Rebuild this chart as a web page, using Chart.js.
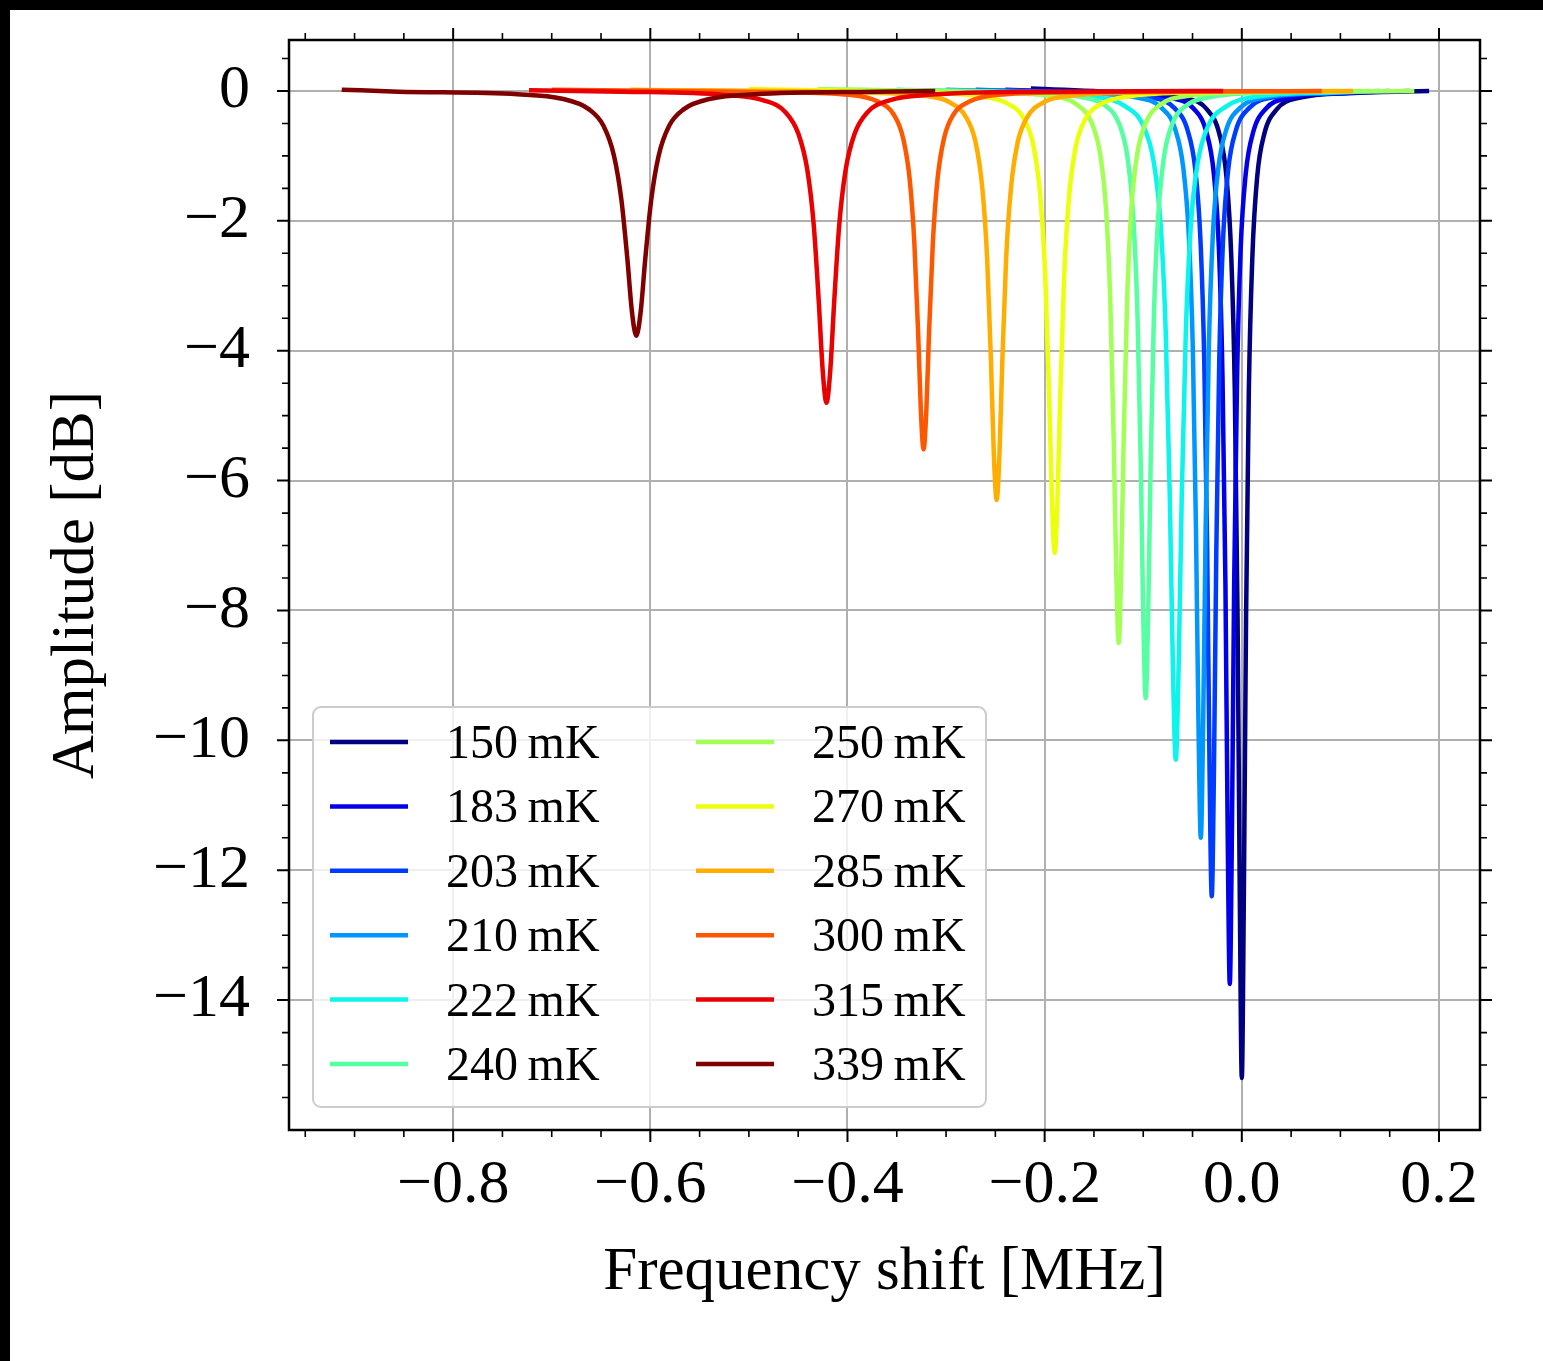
<!DOCTYPE html>
<html>
<head>
<meta charset="utf-8">
<title>Resonance dips vs temperature</title>
<script src="https://cdn.jsdelivr.net/npm/chart.js@4.4.1/dist/chart.umd.min.js"></script>
<style>
  html, body { margin: 0; padding: 0; background: #fff; }
  canvas { display: block; }
</style>
</head>
<body>
<canvas id="dips" width="1543" height="1361"></canvas>
<script>
// Temperatures (legend order) and jet colours
const temps = [150, 183, 203, 210, 222, 240, 250, 270, 285, 300, 315, 339];
const colors = ['#000080', '#0000e9', '#003cff', '#0096ff', '#0cf4eb', '#56ffa1',
                '#a1ff56', '#ecff0b', '#ffad00', '#ff5700', '#e90000', '#800000'];

// Frequency shift [MHz] and amplitude [dB] for each sweep
const f150 = [-0.214, -0.114, -0.0569, -0.0356, -0.0228, -0.0156, -0.0107, -0.0071, -0.0043, -0.0021, 0.0, 0.0021, 0.0043, 0.0071, 0.0107, 0.0156, 0.0228, 0.0356, 0.0569, 0.114, 0.190];
const a150 = [0.04, -0.03, -0.11, -0.28, -0.66, -1.32, -2.55, -4.63, -8.12, -12.32, -15.2, -12.32, -8.12, -4.63, -2.55, -1.32, -0.66, -0.28, -0.11, -0.03, 0.0];

const f183 = [-0.24, -0.130, -0.0711, -0.0490, -0.0358, -0.0284, -0.0232, -0.0196, -0.0166, -0.0144, -0.0122, -0.0100, -0.0078, -0.0048, -0.0012, 0.0040, 0.0114, 0.0246, 0.0467, 0.1056, 0.17];
const a183 = [0.02, -0.03, -0.11, -0.27, -0.64, -1.27, -2.44, -4.40, -7.62, -11.34, -13.75, -11.34, -7.62, -4.40, -2.44, -1.27, -0.64, -0.27, -0.11, -0.03, 0.0];

const f203 = [-0.27, -0.1523, -0.0914, -0.0686, -0.0549, -0.0472, -0.0419, -0.0381, -0.0351, -0.0328, -0.0305, -0.0282, -0.0259, -0.0229, -0.0191, -0.0138, -0.0061, 0.0076, 0.0304, 0.0913, 0.15];
const a203 = [0.02, -0.03, -0.10, -0.26, -0.61, -1.21, -2.31, -4.15, -7.11, -10.38, -12.4, -10.38, -7.11, -4.15, -2.31, -1.21, -0.61, -0.26, -0.10, -0.03, 0.0];

const f210 = [-0.30, -0.1715, -0.1066, -0.0822, -0.0676, -0.0595, -0.0538, -0.0497, -0.0465, -0.0440, -0.0416, -0.0392, -0.0367, -0.0335, -0.0294, -0.0237, -0.0156, -0.0010, 0.0234, 0.0883, 0.14];
const a210 = [0.02, -0.03, -0.10, -0.25, -0.59, -1.17, -2.22, -3.97, -6.74, -9.72, -11.5, -9.72, -6.74, -3.97, -2.22, -1.17, -0.59, -0.25, -0.10, -0.03, 0.0];

const f222 = [-0.35, -0.2294, -0.1482, -0.1178, -0.0995, -0.0893, -0.0822, -0.0772, -0.0731, -0.0700, -0.0670, -0.0640, -0.0609, -0.0568, -0.0518, -0.0447, -0.0345, -0.0162, 0.0142, 0.0954, 0.13];
const a222 = [0.02, -0.02, -0.09, -0.24, -0.55, -1.10, -2.09, -3.71, -6.21, -8.80, -10.3, -8.80, -6.21, -3.71, -2.09, -1.10, -0.55, -0.24, -0.09, -0.02, 0.0];

const f240 = [-0.40, -0.2306, -0.1641, -0.1391, -0.1241, -0.1158, -0.1100, -0.1058, -0.1025, -0.1000, -0.0975, -0.0950, -0.0925, -0.0892, -0.0850, -0.0792, -0.0709, -0.0559, -0.0309, 0.0356, 0.12];
const a240 = [0.02, -0.02, -0.09, -0.22, -0.52, -1.04, -1.97, -3.47, -5.76, -8.06, -9.35, -8.06, -5.76, -3.47, -1.97, -1.04, -0.52, -0.22, -0.09, -0.02, 0.0];

const f250 = [-0.43, -0.2606, -0.1927, -0.1673, -0.1520, -0.1436, -0.1376, -0.1334, -0.1300, -0.1274, -0.1249, -0.1224, -0.1198, -0.1164, -0.1122, -0.1062, -0.0978, -0.0825, -0.0571, 0.0108, 0.175];
const a250 = [0.03, -0.02, -0.08, -0.21, -0.50, -0.98, -1.85, -3.25, -5.34, -7.38, -8.5, -7.38, -5.34, -3.25, -1.85, -0.98, -0.50, -0.21, -0.08, -0.02, 0.0];

const f270 = [-0.50, -0.3440, -0.2669, -0.2380, -0.2206, -0.2110, -0.2043, -0.1994, -0.1956, -0.1927, -0.1898, -0.1869, -0.1840, -0.1802, -0.1753, -0.1686, -0.1590, -0.1416, -0.1127, -0.0356, 0.10];
const a270 = [0.03, -0.02, -0.08, -0.19, -0.44, -0.87, -1.64, -2.85, -4.60, -6.25, -7.12, -6.25, -4.60, -2.85, -1.64, -0.87, -0.44, -0.19, -0.08, -0.02, 0.0];

const f285 = [-0.62, -0.4029, -0.3258, -0.2969, -0.2795, -0.2699, -0.2632, -0.2583, -0.2545, -0.2516, -0.2487, -0.2458, -0.2429, -0.2391, -0.2342, -0.2275, -0.2179, -0.2005, -0.1716, -0.0945, 0.113];
const a285 = [0.02, -0.02, -0.07, -0.17, -0.41, -0.80, -1.50, -2.59, -4.14, -5.57, -6.3, -5.57, -4.14, -2.59, -1.50, -0.80, -0.41, -0.17, -0.07, -0.02, 0.0];

const f300 = [-0.70, -0.4730, -0.3979, -0.3698, -0.3528, -0.3435, -0.3369, -0.3322, -0.3284, -0.3256, -0.3228, -0.3200, -0.3172, -0.3134, -0.3087, -0.3021, -0.2928, -0.2758, -0.2477, -0.1726, 0.081];
const a300 = [0.02, -0.02, -0.06, -0.16, -0.37, -0.73, -1.36, -2.33, -3.69, -4.91, -5.52, -4.91, -3.69, -2.33, -1.36, -0.73, -0.37, -0.16, -0.06, -0.02, 0.0];

const f315 = [-0.723, -0.6283, -0.5248, -0.4860, -0.4627, -0.4498, -0.4407, -0.4342, -0.4291, -0.4252, -0.4213, -0.4174, -0.4135, -0.4084, -0.4019, -0.3928, -0.3799, -0.3566, -0.3178, -0.2143, -0.019];
const a315 = [0.01, -0.01, -0.06, -0.14, -0.33, -0.66, -1.22, -2.07, -3.25, -4.29, -4.8, -4.29, -3.25, -2.07, -1.22, -0.66, -0.33, -0.14, -0.06, -0.01, 0.0];

const f339 = [-0.913, -0.8555, -0.7348, -0.6896, -0.6625, -0.6474, -0.6368, -0.6293, -0.6232, -0.6187, -0.6142, -0.6097, -0.6052, -0.5991, -0.5916, -0.5810, -0.5659, -0.5388, -0.4936, -0.3729, -0.311];
const a339 = [0.02, -0.01, -0.05, -0.12, -0.28, -0.54, -1.00, -1.68, -2.60, -3.39, -3.77, -3.39, -2.60, -1.68, -1.00, -0.54, -0.28, -0.12, -0.05, -0.01, 0.0];

const freqs = [f150, f183, f203, f210, f222, f240, f250, f270, f285, f300, f315, f339];
const amps = [a150, a183, a203, a210, a222, a240, a250, a270, a285, a300, a315, a339];

// Axis ticks
const xTicks = [-0.8, -0.6, -0.4, -0.2, 0.0, 0.2];
const yTicks = [0, -2, -4, -6, -8, -10, -12, -14];

const SERIF = '"Liberation Serif", "Times New Roman", serif';
const MINUS = '\u2212';
const LINE_W = 4.5;

const datasets = temps.map((t, i) => ({
    label: t + '\u2009mK',
    data: freqs[i].map((f, k) => ({ x: f, y: amps[i][k] })),
    borderColor: colors[i],
    borderWidth: LINE_W,
    pointRadius: 0,
    fill: false,
    cubicInterpolationMode: 'monotone',
    order: temps.length - 1 - i // later sweeps drawn on top
}));

// Background, black edge bands, frame, ticks on all sides and legend
const decor = {
    id: 'decor',
    beforeDraw(chart) {
        const c = chart.ctx;
        c.save();
        c.fillStyle = '#fff';
        c.fillRect(0, 0, chart.width, chart.height);
        c.fillStyle = '#000';
        c.fillRect(0, 0, chart.width, 10);
        c.fillRect(0, 0, 10, chart.height);
        c.restore();
    },
    afterDraw(chart) {
        const c = chart.ctx;
        const a = chart.chartArea;
        const xs = chart.scales.x, ys = chart.scales.y;
        c.save();
        c.strokeStyle = '#000';

        // minor + major ticks, pointing outwards
        function tick(px, horiz, len, lw) {
            c.lineWidth = lw;
            c.beginPath();
            if (horiz) {
                c.moveTo(px, a.bottom); c.lineTo(px, a.bottom + len);
                c.moveTo(px, a.top); c.lineTo(px, a.top - len);
            } else {
                c.moveTo(a.left, px); c.lineTo(a.left - len, px);
                c.moveTo(a.right, px); c.lineTo(a.right + len, px);
            }
            c.stroke();
        }
        for (let k = -19; k <= 4; k++) {
            const v = k * 0.05;
            const major = k % 4 === 0;
            tick(xs.getPixelForValue(v), true, major ? 12 : 7, major ? 2 : 1.6);
        }
        for (let k = 1; k >= -31; k--) {
            const v = k * 0.5;
            const major = k % 4 === 0;
            tick(ys.getPixelForValue(v), false, major ? 12 : 7, major ? 2 : 1.6);
        }

        c.lineWidth = 2.5;
        c.strokeRect(a.left, a.top, a.right - a.left, a.bottom - a.top);

        // legend, two columns
        c.beginPath();
        c.roundRect(313, 707, 673, 400, 8);
        c.fillStyle = 'rgba(255,255,255,0.8)';
        c.fill();
        c.strokeStyle = '#cccccc';
        c.lineWidth = 2;
        c.stroke();

        c.font = '48px ' + SERIF;
        c.textAlign = 'left';
        c.textBaseline = 'alphabetic';
        datasets.forEach((ds, i) => {
            const col = Math.floor(i / 6), row = i % 6;
            const y = 742 + row * 64.4;
            const x0 = col === 0 ? 330 : 696;
            c.strokeStyle = ds.borderColor;
            c.lineWidth = LINE_W;
            c.beginPath();
            c.moveTo(x0, y); c.lineTo(x0 + 78, y);
            c.stroke();
            c.fillStyle = '#000';
            c.fillText(ds.label, x0 + 116, y + 16);
        });
        c.restore();
    }
};

new Chart(document.getElementById('dips'), {
    type: 'line',
    data: { datasets },
    plugins: [decor],
    options: {
        responsive: false,
        animation: false,
        devicePixelRatio: 1,
        layout: { padding: { left: 0, top: 40, right: 63, bottom: 0 } },
        plugins: { legend: { display: false }, tooltip: { enabled: false } },
        scales: {
            x: {
                type: 'linear',
                min: -0.9665,
                max: 0.2416,
                afterFit(scale) {
                    scale.height = 231;
                    scale.paddingLeft = 0;
                    scale.paddingRight = 0;
                },
                afterBuildTicks(scale) { scale.ticks = xTicks.map(v => ({ value: v })); },
                grid: { color: '#b0b0b0', lineWidth: 2, drawTicks: false },
                border: { display: false },
                ticks: {
                    padding: 19,
                    color: '#000',
                    font: { family: SERIF, size: 62 },
                    callback: v => (v < 0 ? MINUS : '') + Math.abs(v).toFixed(1)
                },
                title: {
                    display: true,
                    text: 'Frequency shift [MHz]',
                    color: '#000',
                    font: { family: SERIF, size: 61 },
                    padding: { top: 0, bottom: 51 }
                }
            },
            y: {
                type: 'linear',
                min: -16.0,
                max: 0.785,
                afterFit(scale) {
                    scale.width = 289;
                    scale.paddingTop = 0;
                    scale.paddingBottom = 0;
                },
                afterBuildTicks(scale) { scale.ticks = yTicks.map(v => ({ value: v })); },
                grid: { color: '#b0b0b0', lineWidth: 2, drawTicks: false },
                border: { display: false },
                ticks: {
                    padding: 39,
                    color: '#000',
                    font: { family: SERIF, size: 62 },
                    callback: v => (v < 0 ? MINUS : '') + Math.abs(v)
                },
                title: {
                    display: true,
                    text: 'Amplitude [dB]',
                    color: '#000',
                    font: { family: SERIF, size: 61 },
                    padding: { top: 40, bottom: 0 }
                }
            }
        }
    }
});
</script>
</body>
</html>
